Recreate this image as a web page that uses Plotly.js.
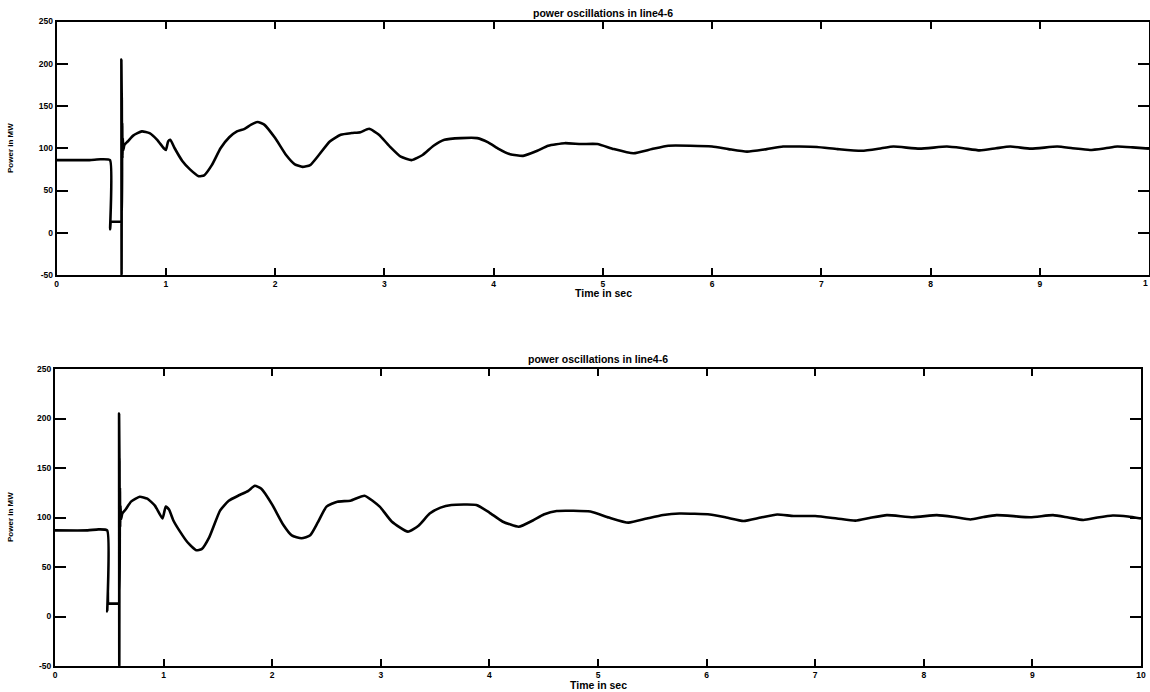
<!DOCTYPE html>
<html>
<head>
<meta charset="utf-8">
<script src="https://cdn.plot.ly/plotly-3.0.1.min.js"></script>
<style>
html,body{margin:0;padding:0;background:#fff;}
#chart{width:1150px;height:692px;}
</style>
</head>
<body>
<div id="chart"></div>
<script>
// Top panel: power oscillations (time in s, power in MW)
var timeTop = [0, 0.30, 0.40, 0.488, 0.489, 0.495, 0.50, 0.58, 0.590, 0.592, 0.594, 0.596, 0.598, 0.600, 0.602, 0.605, 0.610, 0.620, 0.65, 0.70, 0.78, 0.85, 0.92, 0.98, 1.00, 1.02, 1.04, 1.08, 1.15, 1.22, 1.30, 1.35, 1.42, 1.50, 1.58, 1.65, 1.72, 1.78, 1.84, 1.90, 2.00, 2.10, 2.18, 2.25, 2.32, 2.40, 2.50, 2.60, 2.70, 2.78, 2.86, 2.95, 3.05, 3.15, 3.25, 3.35, 3.45, 3.55, 3.70, 3.85, 3.95, 4.05, 4.15, 4.27, 4.40, 4.50, 4.65, 4.80, 4.95, 5.10, 5.28, 5.45, 5.60, 5.80, 6.00, 6.15, 6.32, 6.50, 6.65, 6.80, 6.96, 7.15, 7.37, 7.55, 7.66, 7.90, 8.15, 8.30, 8.45, 8.60, 8.73, 8.92, 9.16, 9.30, 9.46, 9.60, 9.71, 9.85, 10.0];
var powerTop = [86, 86, 87, 86, 4, 13, 13, 13, 13, 205, -50, 160, 72, 130, 88, 112, 98, 104, 108, 115, 120, 118, 110, 100, 98, 108, 110, 100, 85, 75, 67, 68, 80, 100, 113, 120, 123, 128, 131, 128, 112, 92, 81, 78, 80, 92, 108, 116, 118, 119, 123, 116, 102, 90, 86, 92, 103, 110, 112, 112, 107, 99, 93, 91, 97, 103, 106, 105, 105, 99, 94, 99, 103, 103, 102, 99, 96, 99, 102, 102, 101.5, 99, 97, 100, 102, 99.5, 102, 100, 97.5, 100, 102, 99.5, 102, 100, 98, 100, 102, 101, 99.5];

// Bottom panel
var timeBot = [0, 0.30, 0.40, 0.48, 0.481, 0.487, 0.49, 0.50, 0.58, 0.588, 0.590, 0.592, 0.594, 0.596, 0.598, 0.600, 0.603, 0.608, 0.620, 0.65, 0.70, 0.78, 0.85, 0.92, 0.99, 1.02, 1.05, 1.09, 1.15, 1.22, 1.30, 1.35, 1.42, 1.52, 1.60, 1.70, 1.78, 1.84, 1.90, 2.00, 2.10, 2.18, 2.27, 2.35, 2.42, 2.50, 2.60, 2.72, 2.85, 2.99, 3.10, 3.25, 3.35, 3.45, 3.55, 3.65, 3.88, 4.00, 4.12, 4.27, 4.40, 4.50, 4.62, 4.93, 5.10, 5.28, 5.45, 5.60, 5.75, 6.03, 6.18, 6.34, 6.50, 6.65, 6.80, 7.00, 7.20, 7.37, 7.50, 7.66, 7.90, 8.12, 8.28, 8.43, 8.55, 8.67, 8.98, 9.19, 9.33, 9.47, 9.60, 9.74, 9.88, 10.0];
var powerBot = [87, 87, 88, 87, 5, 25, 13, 13, 13, 13, 205, -50, 160, 72, 130, 90, 112, 98, 104, 108, 116, 121, 119, 112, 99, 111, 108, 97, 86, 75, 67, 68, 80, 107, 117, 122.7, 127, 132, 129, 113, 93, 82, 79, 82, 95, 111, 116, 117, 122, 111, 96, 85.7, 92, 104, 110, 112.6, 112.6, 105, 96, 90.7, 97, 103, 106.6, 106, 100, 94.8, 99, 102.5, 104, 103, 100, 96.5, 100, 103, 101.5, 101.5, 99, 96.8, 99.5, 102.4, 100.3, 102.4, 100.5, 98, 100.5, 102.4, 100.3, 102.4, 100, 97.5, 100, 102, 101, 99];

var xTicks = [0, 1, 2, 3, 4, 5, 6, 7, 8, 9, 10];
var xTickTextTop = ['0', '1', '2', '3', '4', '5', '6', '7', '8', '9', '1'];
var xTickTextBot = ['0', '1', '2', '3', '4', '5', '6', '7', '8', '9', '10'];
var yTicks = [-50, 0, 50, 100, 150, 200, 250];
var yTickText = ['-50', '0', '50', '100', '150', '200', '250'];

var titleText = 'power oscillations in line4-6';
var xTitle = 'Time in sec';
var yTitle = 'Power in MW';

var lineStyle = {color: '#000', width: 2.6, shape: 'spline', smoothing: 0.5};
var traces = [
  {x: timeTop, y: powerTop, type: 'scatter', mode: 'lines', line: lineStyle, xaxis: 'x', yaxis: 'y', hoverinfo: 'none', cliponaxis: true},
  {x: timeBot, y: powerBot, type: 'scatter', mode: 'lines', line: lineStyle, xaxis: 'x2', yaxis: 'y2', hoverinfo: 'none', cliponaxis: true}
];

var tickFont = {family: 'Liberation Sans, Arial, sans-serif', size: 8.5, color: '#000', weight: 'bold'};
function xAxis(domain, anchor, ticktext) {
  return {domain: domain, anchor: anchor, range: [0, 10], tickmode: 'array', tickvals: xTicks, ticktext: ticktext,
    ticks: 'inside', ticklen: 7, tickwidth: 2, tickcolor: '#000', showline: true, linewidth: 2, linecolor: '#000',
    mirror: 'ticks', showgrid: false, zeroline: false, tickfont: tickFont, automargin: false};
}
function yAxis(domain, anchor) {
  return {domain: domain, anchor: anchor, range: [-50, 250], tickmode: 'array', tickvals: yTicks, ticktext: yTickText,
    ticks: 'inside', ticklen: 11, tickwidth: 2, tickcolor: '#000', showline: true, linewidth: 2, linecolor: '#000',
    mirror: 'ticks', showgrid: false, zeroline: false, tickfont: tickFont, automargin: false};
}

var W = 1150, H = 692;
var titleFont = {family: 'Liberation Sans, Arial, sans-serif', size: 10.5, color: '#000', weight: 'bold'};
var smallFont = {family: 'Liberation Sans, Arial, sans-serif', size: 8, color: '#000', weight: 'bold'};

var layout = {
  width: W, height: H,
  margin: {l: 0, r: 0, t: 0, b: 0},
  paper_bgcolor: '#fff', plot_bgcolor: '#fff',
  showlegend: false,
  xaxis: xAxis([56.7 / W, 1149 / W], 'y', xTickTextTop),
  yaxis: yAxis([1 - 275 / H, 1 - 21.5 / H], 'x'),
  xaxis2: xAxis([55 / W, 1141 / W], 'y2', xTickTextBot),
  yaxis2: yAxis([1 - 666 / H, 1 - 369 / H], 'x2'),
  annotations: [
    {text: titleText, xref: 'paper', yref: 'paper', x: 603 / W, y: 1 - 13 / H, xanchor: 'center', yanchor: 'middle', showarrow: false, font: titleFont},
    {text: titleText, xref: 'paper', yref: 'paper', x: 598 / W, y: 1 - 359 / H, xanchor: 'center', yanchor: 'middle', showarrow: false, font: titleFont},
    {text: xTitle, xref: 'paper', yref: 'paper', x: 603 / W, y: 1 - 293 / H, xanchor: 'center', yanchor: 'middle', showarrow: false, font: titleFont},
    {text: xTitle, xref: 'paper', yref: 'paper', x: 598 / W, y: 1 - 685 / H, xanchor: 'center', yanchor: 'middle', showarrow: false, font: titleFont},
    {text: yTitle, xref: 'paper', yref: 'paper', x: 11 / W, y: 1 - 148 / H, xanchor: 'center', yanchor: 'middle', textangle: -90, showarrow: false, font: smallFont},
    {text: yTitle, xref: 'paper', yref: 'paper', x: 10 / W, y: 1 - 517 / H, xanchor: 'center', yanchor: 'middle', textangle: -90, showarrow: false, font: smallFont},
    {text: xTickTextTop[10], xref: 'paper', yref: 'paper', x: 1 , y: 1 - 283 / H, xanchor: 'right', yanchor: 'middle', showarrow: false, font: tickFont}
  ]
};

Plotly.newPlot('chart', traces, layout, {displayModeBar: false, staticPlot: true});
</script>
</body>
</html>
